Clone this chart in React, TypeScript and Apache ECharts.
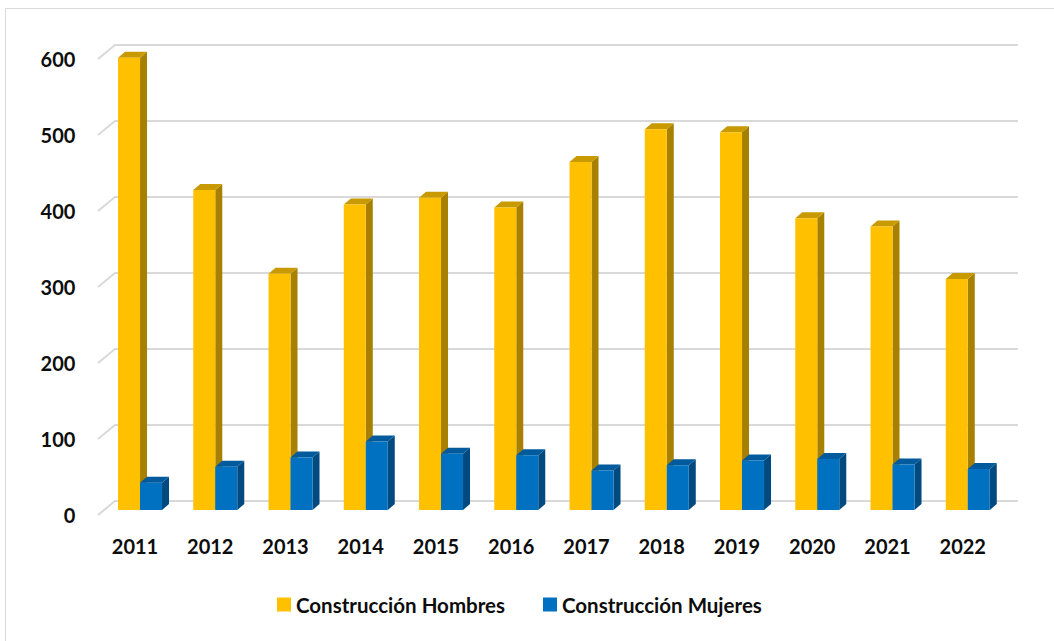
import React, { useEffect, useRef } from 'react';
import * as echarts from 'echarts';

const years = ['2011', '2012', '2013', '2014', '2015', '2016', '2017', '2018', '2019', '2020', '2021', '2022'];
const hombres = [595, 421, 311, 402, 411, 398, 458, 501, 497, 384, 373, 304];
const mujeres = [36, 57, 69, 90, 74, 72, 52, 59, 65, 67, 60, 54];
const yTicks = [0, 100, 200, 300, 400, 500, 600];
const seriesNames = ['Construcción Hombres', 'Construcción Mujeres'];

const FONT = 'Lato';
const BAR_W = 22;
const DX = 7;
const DY = 6;

function barRenderer(left: boolean, front: string, side: string, top: string) {
  return (params: any, api: any) => {
    const idx = api.value(0);
    const val = api.value(1);
    const pTop = api.coord([idx, val]);
    const pBase = api.coord([idx, 0]);
    const cx = pTop[0];
    const yTop = pTop[1];
    const yBase = pBase[1];
    const x0 = left ? cx - BAR_W : cx;
    const x1 = x0 + BAR_W;
    return {
      type: 'group',
      children: [
        {
          type: 'polygon',
          shape: { points: [[x1, yTop], [x1 + DX, yTop - DY], [x1 + DX, yBase - DY], [x1, yBase]] },
          style: { fill: side },
        },
        {
          type: 'polygon',
          shape: { points: [[x0, yTop], [x0 + DX, yTop - DY], [x1 + DX, yTop - DY], [x1, yTop]] },
          style: { fill: top },
        },
        {
          type: 'rect',
          shape: { x: x0, y: yTop, width: BAR_W, height: yBase - yTop },
          style: { fill: front },
        },
      ],
    };
  };
}

export default function App() {
  const ref = useRef<HTMLDivElement>(null);
  useEffect(() => {
    document.body.style.margin = '0';
    const chart = echarts.init(ref.current as HTMLDivElement, null, { renderer: 'svg' });
    chart.setOption({
      animation: false,
      backgroundColor: '#ffffff',
      graphic: [
        {
          type: 'rect',
          shape: { x: 5.5, y: 8.5, width: 1100, height: 700 },
          style: { fill: 'none', stroke: '#d9d9d9', lineWidth: 1 },
          silent: true,
        },
      ],
      grid: { left: 102.4, right: 48.6, top: 54, bottom: 131, containLabel: false },
      legend: {
        data: seriesNames,
        left: 277,
        top: 594,
        padding: 0,
        icon: 'rect',
        itemWidth: 14,
        itemHeight: 14,
        itemGap: 38,
        textStyle: { fontFamily: FONT, fontSize: 20.5, fontWeight: 'bold', color: '#0d0d0d', lineHeight: 20 },
      },
      xAxis: {
        type: 'category',
        data: years,
        axisLine: { show: false },
        axisTick: { show: false },
        splitLine: { show: false },
        axisLabel: {
          fontFamily: FONT,
          fontSize: 20,
          fontWeight: 'bold',
          color: '#0d0d0d',
          margin: 26,
          padding: [0, 10, 0, 0],
        },
      },
      yAxis: {
        type: 'value',
        min: 0,
        max: 600,
        interval: 100,
        axisLine: { show: false },
        axisTick: { show: false },
        splitLine: { show: false },
        axisLabel: {
          margin: 27,
          formatter: '{a|{value}}',
          rich: {
            a: {
              fontFamily: FONT,
              fontSize: 20,
              fontWeight: 'bold',
              color: '#0d0d0d',
              padding: [10, 0, 0, 0],
            },
          },
        },
      },
      series: [
        {
          type: 'custom',
          name: 'grid',
          silent: true,
          z: 1,
          data: yTicks.map((t) => [0, t]),
          renderItem: (params: any, api: any) => {
            const cs = params.coordSys;
            const y = api.coord([0, api.value(1)])[1];
            return {
              type: 'polyline',
              shape: {
                points: [
                  [cs.x - 4.4, y + 5],
                  [cs.x + 12.6, y - 9],
                  [cs.x + cs.width + 12.6, y - 9],
                ],
              },
              style: { stroke: '#d9d9d9', lineWidth: 2, fill: null },
            };
          },
        },
        {
          type: 'custom',
          name: seriesNames[0],
          z: 2,
          itemStyle: { color: '#FFC000' },
          data: hombres.map((v, i) => [i, v]),
          renderItem: barRenderer(true, '#FFC000', '#A88000', '#C99A00'),
        },
        {
          type: 'custom',
          name: seriesNames[1],
          z: 3,
          itemStyle: { color: '#0070C0' },
          data: mujeres.map((v, i) => [i, v]),
          renderItem: barRenderer(false, '#0070C0', '#004A80', '#005A9C'),
        },
      ],
    });
    return () => chart.dispose();
  }, []);
  return <div ref={ref} style={{ width: 1054, height: 641 }} />;
}
